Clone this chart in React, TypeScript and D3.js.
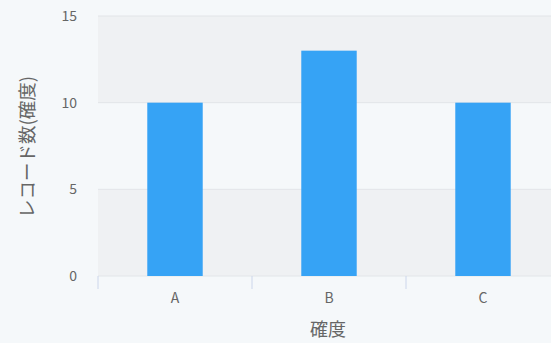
import React from "react";
import * as d3 from "d3";

const categories = ["A", "B", "C"];
const values = [10, 13, 10];
const yTicks = [0, 5, 10, 15];
const xTitle = "確度";
const yTitle = "レコード数(確度)";

export default function App() {
  const W = 551, H = 343;
  const left = 98, top = 16, bottom = 276;
  const x = d3.scaleBand<string>().domain(categories).range([left, left + 462]).padding(0);
  const y = d3.scaleLinear().domain([0, 15]).range([bottom, top]);
  const bw = x.bandwidth();
  const barW = bw * 0.36;
  const font = "'Noto Sans CJK JP', 'Noto Sans', sans-serif";
  const bands = [[0, 5], [10, 15]];
  return (
    <svg width={W} height={H} style={{ position: "absolute", left: 0, top: 0, background: "#f5f8fa" }}>
      <rect x={0} y={0} width={W} height={H} fill="#f5f8fa" />
      {bands.map(([a, b]) => (
        <rect key={a} x={left} y={y(b)} width={W - left} height={y(a) - y(b)} fill="#eff1f3" />
      ))}
      {yTicks.map((t) => (
        <line key={t} x1={left} x2={W} y1={y(t)} y2={y(t)} stroke="#e2e5e8" strokeWidth={1} />
      ))}
      {yTicks.map((t) => (
        <text key={t} x={77} y={y(t)} dy="0.35em" textAnchor="end" fontSize={14} fill="#666" fontFamily={font}>
          {t}
        </text>
      ))}
      {categories.map((c, i) => (
        <rect key={c} x={(x(c) as number) + (bw - barW) / 2} y={y(values[i])} width={barW} height={bottom - y(values[i])} fill="#36a3f5" />
      ))}
      {categories.map((c) => (
        <line key={c} x1={x(c)} x2={x(c)} y1={bottom} y2={bottom + 13} stroke="#ccd6eb" strokeWidth={1} />
      ))}
      {categories.map((c) => (
        <text key={c} x={(x(c) as number) + bw / 2} y={298} dy="0.35em" textAnchor="middle" fontSize={14} fill="#666" fontFamily={font}>
          {c}
        </text>
      ))}
      <text x={328} y={330} dy="0.35em" textAnchor="middle" fontSize={18} fill="#666" fontFamily={font}>
        {xTitle}
      </text>
      <text transform={`translate(28,147) rotate(-90)`} dy="0.35em" textAnchor="middle" fontSize={18.5} fill="#666" fontFamily={font}>
        {yTitle}
      </text>
    </svg>
  );
}
